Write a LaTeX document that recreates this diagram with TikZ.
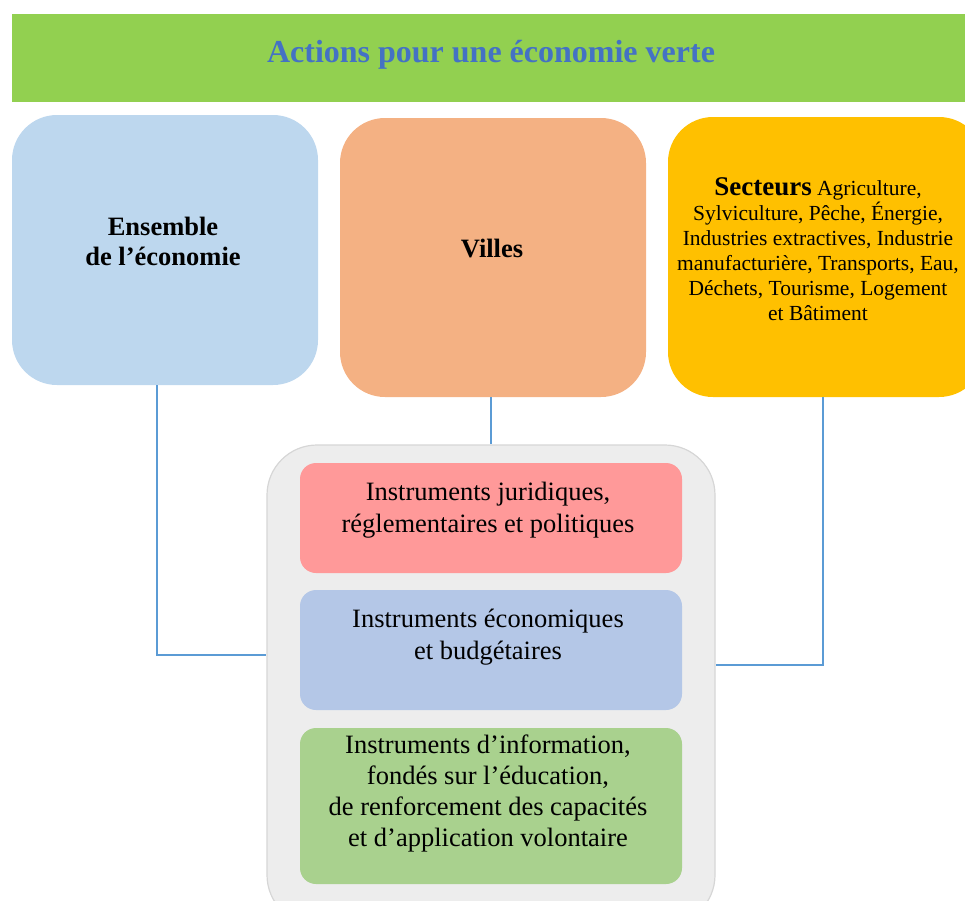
\documentclass[tikz,border=0pt]{standalone}
\usepackage{fontspec}
\setmainfont{Liberation Serif}
\usetikzlibrary{calc}
\definecolor{titlegreen}{HTML}{92D050}
\definecolor{titleblue}{HTML}{4472C4}
\definecolor{boxblue}{HTML}{BDD7EE}
\definecolor{boxorange}{HTML}{F4B183}
\definecolor{boxyellow}{HTML}{FFC000}
\definecolor{contgray}{HTML}{EDEDED}
\definecolor{contedge}{HTML}{D6D6D6}
\definecolor{instred}{HTML}{FF9999}
\definecolor{instblue}{HTML}{B4C7E7}
\definecolor{instgreen}{HTML}{A9D18E}
\definecolor{linkblue}{HTML}{5B9BD5}
\tikzset{
  bigbox/.style={rectangle, rounded corners=45pt, minimum width=306pt, inner sep=0pt, draw=none},
  instbox/.style={rectangle, rounded corners=16pt, minimum width=382pt, inner sep=0pt, draw=none},
  txt/.style={align=center, inner sep=0pt, text=black},
  link/.style={draw=linkblue, line width=1.5pt},
}
\begin{document}
\begin{tikzpicture}[x=1pt,y=-1pt]
\useasboundingbox (0,0) rectangle (965,900);
% title
\node[rectangle, fill=titlegreen, minimum width=955pt, minimum height=88pt, inner sep=0pt] (title) at (489.5,58) {};
\node[txt, text=titleblue, font=\fontsize{32}{36}\selectfont\bfseries] (titletxt) at (491,55) {Actions pour une économie verte};
% top boxes
\node[bigbox, fill=boxblue, minimum height=270pt] (eco) at (165,250) {};
\node[txt, font=\fontsize{26.5}{30}\selectfont\bfseries] (ecotxt) at (163,241) {Ensemble\\de l’économie};
\node[bigbox, fill=boxorange, minimum height=279pt] (villes) at (493,257.5) {};
\node[txt, font=\fontsize{26.5}{30}\selectfont\bfseries] (villestxt) at (492,249) {Villes};
\node[bigbox, fill=boxyellow, minimum width=316pt, minimum height=280pt] (sect) at (826,257) {};
\node[txt, font=\fontsize{21.5}{25}\selectfont] (secttxt) at (818,249) {{\fontsize{27}{25}\selectfont\bfseries Secteurs} Agriculture,\\Sylviculture, Pêche, Énergie,\\Industries extractives, Industrie\\manufacturière, Transports, Eau,\\Déchets, Tourisme, Logement\\et Bâtiment};
% container
\node[rectangle, rounded corners=50pt, fill=contgray, draw=contedge, line width=1.2pt, minimum width=448pt, minimum height=480pt, inner sep=0pt] (cont) at (491,685) {};
\node[instbox, fill=instred, minimum height=110pt] (jur) at (491,518) {};
\node[txt, font=\fontsize{26.5}{32}\selectfont] (jurtxt) at (488,510) {Instruments juridiques,\\réglementaires et politiques};
\node[instbox, fill=instblue, minimum height=120pt] (econ) at (491,650) {};
\node[txt, font=\fontsize{26.5}{32}\selectfont] (econtxt) at (488,637) {Instruments économiques\\et budgétaires};
\node[instbox, fill=instgreen, minimum height=156pt] (info) at (491,806) {};
\node[txt, font=\fontsize{26.5}{31}\selectfont] (infotxt) at (488,793) {Instruments d’information,\\fondés sur l’éducation,\\de renforcement des capacités\\et d’application volontaire};
% connectors
\draw[link] ([xshift=-8pt]eco.south) |- ($(cont.west)+(0,-30)$);
\draw[link] ([xshift=-2pt]villes.south) -- ([xshift=-2pt]villes.south |- cont.north);
\draw[link] ([xshift=-3pt]sect.south) |- ($(cont.east)+(0,-20)$);
\end{tikzpicture}
\end{document}
